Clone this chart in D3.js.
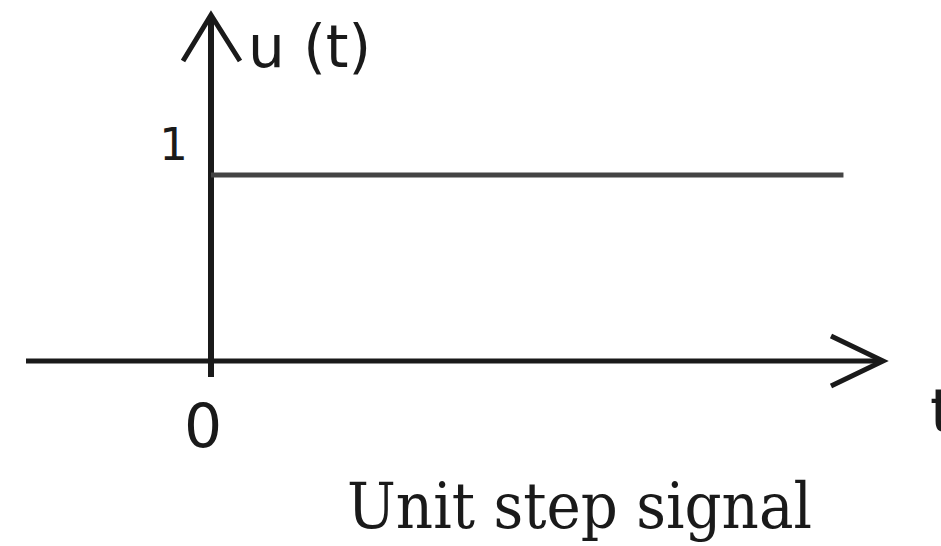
<!DOCTYPE html>
<html>
<head>
<meta charset="utf-8">
<script src="https://cdn.jsdelivr.net/npm/d3@7"></script>
<style>
  html, body { margin: 0; padding: 0; background: #fff; overflow: hidden; }
  svg { display: block; }
</style>
</head>
<body>
<svg id="chart" width="941" height="546"></svg>
<script>
// Unit step signal u(t)
const stepSeries = [{ t: 0, u: 1 }, { t: 4, u: 1 }];
const xTicks = [0];
const yTicks = [1];
const xLabel = 't';
const yLabel = 'u (t)';
const title = 'Unit step signal';

const width = 941, height = 546;
const svg = d3.select('#chart');

const x = d3.scaleLinear().domain([-1.17, 4.25]).range([26, 883]);
const y = d3.scaleLinear().domain([0, 1]).range([361, 175]);

const ink = '#1a1a1a';

// x axis with arrow
svg.append('line')
    .attr('x1', x(-1.17)).attr('x2', x(4.25) - 3)
    .attr('y1', y(0)).attr('y2', y(0))
    .attr('stroke', ink).attr('stroke-width', 5);
svg.append('path')
    .attr('d', `M${x(4.25) - 52},${y(0) - 25} L${x(4.25)},${y(0)} L${x(4.25) - 52},${y(0) + 25}`)
    .attr('fill', 'none').attr('stroke', ink).attr('stroke-width', 5)
    .attr('stroke-linejoin', 'miter');

// y axis with arrow
svg.append('line')
    .attr('x1', x(0)).attr('x2', x(0))
    .attr('y1', y(-0.086)).attr('y2', y(1.86) + 3)
    .attr('stroke', ink).attr('stroke-width', 6);
svg.append('path')
    .attr('d', `M${x(0) - 28},${y(1.86) + 46} L${x(0)},${y(1.86)} L${x(0) + 29},${y(1.86) + 46}`)
    .attr('fill', 'none').attr('stroke', ink).attr('stroke-width', 5)
    .attr('stroke-linejoin', 'miter');

// step line
svg.append('path').datum(stepSeries)
    .attr('fill', 'none')
    .attr('stroke', '#444')
    .attr('stroke-width', 5)
    .attr('d', d3.line().x(d => x(d.t)).y(d => y(d.u)));

// tick labels
svg.selectAll('.xt').data(xTicks).enter().append('text')
    .attr('x', d => x(d) - 8).attr('y', 447)
    .attr('text-anchor', 'middle')
    .attr('font-family', 'DejaVu Sans, sans-serif').attr('font-size', 60)
    .attr('fill', ink).text(d => d);

svg.selectAll('.yt').data(yTicks).enter().append('text')
    .attr('x', 188).attr('y', y(1) - 15)
    .attr('text-anchor', 'end')
    .attr('font-family', 'DejaVu Sans, sans-serif').attr('font-size', 45)
    .attr('fill', ink).text(d => d);

// axis labels
svg.append('text')
    .attr('x', 248).attr('y', 67)
    .attr('font-family', 'DejaVu Sans, sans-serif').attr('font-size', 58)
    .attr('fill', ink).text(yLabel);

// the reference shows this label partly past the right edge
svg.append('text')
    .attr('x', 930).attr('y', 432)
    .attr('font-family', 'DejaVu Sans, sans-serif').attr('font-size', 60)
    .attr('fill', ink).text(xLabel);

// caption
svg.append('text')
    .attr('x', 347).attr('y', 528)
    .attr('textLength', 465).attr('lengthAdjust', 'spacingAndGlyphs')
    .attr('font-family', 'DejaVu Serif, serif').attr('font-size', 64)
    .attr('fill', ink).text(title);
</script>
</body>
</html>
